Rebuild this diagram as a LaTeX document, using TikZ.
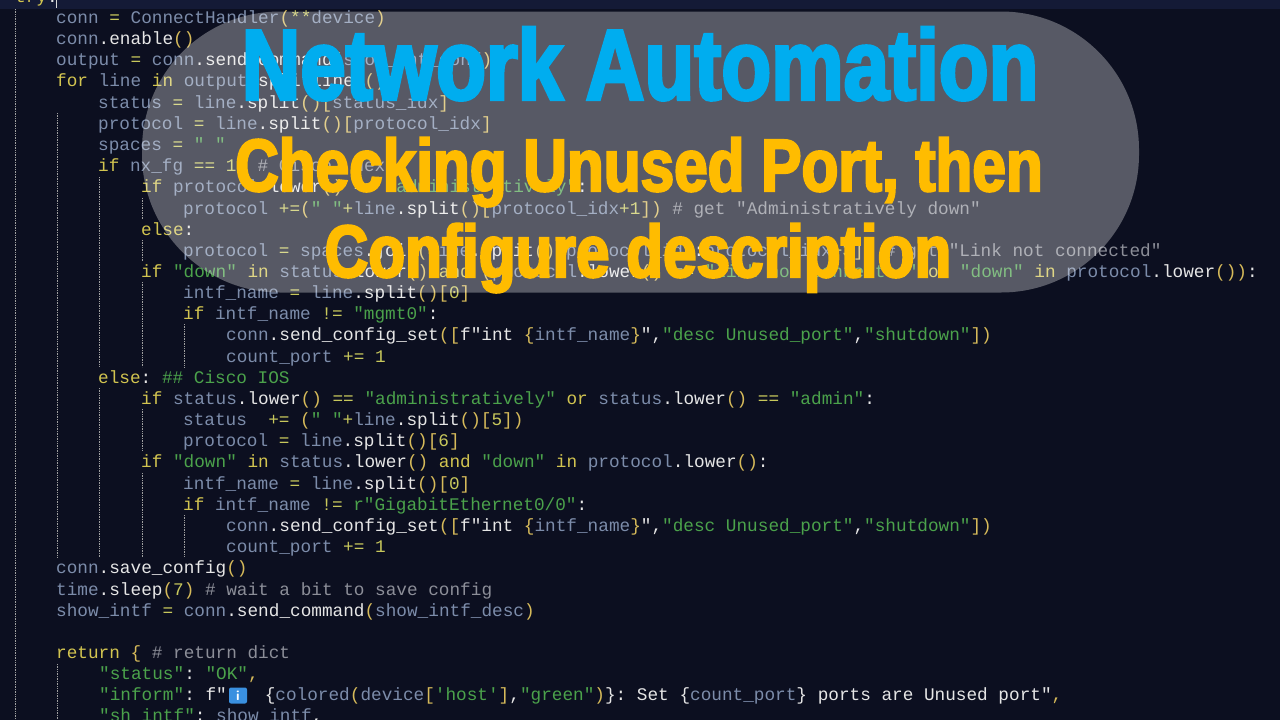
\documentclass[tikz,border=0pt]{standalone}
\usepackage{fontspec}
\setmonofont{Liberation Mono}
\newfontfamily\titlefont[FakeStretch=.815,FakeBold=3]{Liberation Sans Bold}

\definecolor{pagebg}{HTML}{0C0F20}
\definecolor{barbg}{HTML}{141A36}
\definecolor{codevar}{HTML}{7C8CAA}
\definecolor{codefn}{HTML}{E6E6E6}
\definecolor{codekey}{HTML}{D2C450}
\definecolor{codestr}{HTML}{4BA24B}
\definecolor{codebr}{HTML}{D6BA5A}
\definecolor{codeop}{HTML}{C8C85C}
\definecolor{codecm}{HTML}{8C8E98}
\definecolor{infoblue}{HTML}{3A90E0}
\definecolor{titleblue}{HTML}{00ADEF}
\definecolor{titleorange}{HTML}{FFBC00}

\newcommand{\cvar}[1]{\textcolor{codevar}{#1}}
\newcommand{\cfn}[1]{\textcolor{codefn}{#1}}
\newcommand{\ckey}[1]{\textcolor{codekey}{#1}}
\newcommand{\cstr}[1]{\textcolor{codestr}{#1}}
\newcommand{\cbr}[1]{\textcolor{codebr}{#1}}
\newcommand{\cop}[1]{\textcolor{codeop}{#1}}
\newcommand{\ccm}[1]{\textcolor{codecm}{#1}}

\tikzset{
	codeline/.style={anchor=mid west, inner sep=0pt, yshift=-3pt, font=\ttfamily\fontsize{17.72pt}{20pt}\selectfont\frenchspacing},
	guide/.style={draw=gray!75, line width=.7pt, densely dotted},
	titleline/.style={anchor=base, inner sep=0pt, font=\titlefont},
}

\begin{document}
\begin{tikzpicture}[x=1pt, y=-1pt]

	\useasboundingbox (0,0) rectangle (1280,720);
	\clip (0,0) rectangle (1280,720);

	\fill[pagebg] (0,0) rectangle (1280,720);
	\fill[barbg] (0,0) rectangle (1280,9);

	% indent guides
	\foreach \gx/\ga/\gb in {15/9/720, 57/113/557, 57/664/720, 99/177/367, 99/388/557, 142/198/219, 142/240/261, 142/282/367, 142/409/451, 142/473/557, 184/324/367, 184/515/557}
		\draw[guide] (\gx,\ga) -- (\gx,\gb);

	\draw[white!85!black, line width=.7pt] (56,0) -- (56,8);

	\node[codeline] (try) at (15,-3) {\ckey{try}\cfn{:}};
	\node[codeline] (l0) at (56,18) {\cvar{conn} \cop{=} \cvar{ConnectHandler}\cbr{(}\cop{**}\cvar{device}\cbr{)}};
	\node[codeline] (l1) at (56,39) {\cvar{conn}\cfn{.enable}\cbr{()}};
	\node[codeline] (l2) at (56,60) {\cvar{output} \cop{=} \cvar{conn}\cfn{.send\_command}\cbr{(}\cvar{show\_int\_conf}\cbr{)}};
	\node[codeline] (l3) at (56,81) {\ckey{for} \cvar{line} \ckey{in} \cvar{output}\cfn{.splitlines}\cbr{()}\cfn{:}};
	\node[codeline] (l4) at (98,103) {\cvar{status} \cop{=} \cvar{line}\cfn{.split}\cbr{()[}\cvar{status\_idx}\cbr{]}};
	\node[codeline] (l5) at (98,124) {\cvar{protocol} \cop{=} \cvar{line}\cfn{.split}\cbr{()[}\cvar{protocol\_idx}\cbr{]}};
	\node[codeline] (l6) at (98,145) {\cvar{spaces} \cop{=} \cstr{" "}};
	\node[codeline] (l7) at (98,166) {\ckey{if} \cvar{nx\_fg} \cop{==} \cop{1}\cfn{:} \ccm{\# Cisco \ Nexus}};
	\node[codeline] (l8) at (141,187) {\ckey{if} \cvar{protocol}\cfn{.lower}\cbr{()} \cop{==} \cstr{"administratively"}\cfn{:}};
	\node[codeline] (l9) at (183,209) {\cvar{protocol} \cop{+=}\cbr{(}\cstr{" "}\cop{+}\cvar{line}\cfn{.split}\cbr{()[}\cvar{protocol\_idx}\cop{+1}\cbr{])} \ccm{\# get "Administratively down"}};
	\node[codeline] (l10) at (141,230) {\ckey{else}\cfn{:}};
	\node[codeline] (l11) at (183,251) {\cvar{protocol} \cop{=} \cvar{spaces}\cfn{.join}\cbr{(}\cvar{line}\cfn{.split}\cbr{()[}\cvar{protocol\_idx}\cfn{:}\cvar{protocol\_idx}\cop{+3}\cbr{])} \ccm{\# get "Link not connected"}};
	\node[codeline] (l12) at (141,272) {\ckey{if} \cstr{"down"} \ckey{in} \cvar{status}\cfn{.lower}\cbr{()} \ckey{and} \cbr{(}\cvar{protocol}\cfn{.lower}\cbr{()} \cop{==} \cstr{"link not connected"} \ckey{or} \cstr{"down"} \ckey{in} \cvar{protocol}\cfn{.lower}\cbr{())}\cfn{:}};
	\node[codeline] (l13) at (183,293) {\cvar{intf\_name} \cop{=} \cvar{line}\cfn{.split}\cbr{()[}\cop{0}\cbr{]}};
	\node[codeline] (l14) at (183,314) {\ckey{if} \cvar{intf\_name} \cop{!=} \cstr{"mgmt0"}\cfn{:}};
	\node[codeline] (l15) at (226,335) {\cvar{conn}\cfn{.send\_config\_set}\cbr{([}\cfn{f"int} \cbr{\{}\cvar{intf\_name}\cbr{\}}\cfn{"}\cfn{,}\cstr{"desc Unused\_port"}\cfn{,}\cstr{"shutdown"}\cbr{])}};
	\node[codeline] (l16) at (226,357) {\cvar{count\_port} \cop{+=} \cop{1}};
	\node[codeline] (l17) at (98,378) {\ckey{else}\cfn{:} \cstr{\#\# Cisco IOS}};
	\node[codeline] (l18) at (141,399) {\ckey{if} \cvar{status}\cfn{.lower}\cbr{()} \cop{==} \cstr{"administratively"} \ckey{or} \cvar{status}\cfn{.lower}\cbr{()} \cop{==} \cstr{"admin"}\cfn{:}};
	\node[codeline] (l19) at (183,420) {\cvar{status}\ \ \cop{+=} \cbr{(}\cstr{" "}\cop{+}\cvar{line}\cfn{.split}\cbr{()[}\cop{5}\cbr{])}};
	\node[codeline] (l20) at (183,441) {\cvar{protocol} \cop{=} \cvar{line}\cfn{.split}\cbr{()[}\cop{6}\cbr{]}};
	\node[codeline] (l21) at (141,462) {\ckey{if} \cstr{"down"} \ckey{in} \cvar{status}\cfn{.lower}\cbr{()} \ckey{and} \cstr{"down"} \ckey{in} \cvar{protocol}\cfn{.lower}\cbr{()}\cfn{:}};
	\node[codeline] (l22) at (183,484) {\cvar{intf\_name} \cop{=} \cvar{line}\cfn{.split}\cbr{()[}\cop{0}\cbr{]}};
	\node[codeline] (l23) at (183,505) {\ckey{if} \cvar{intf\_name} \cop{!=} \cstr{r"GigabitEthernet0/0"}\cfn{:}};
	\node[codeline] (l24) at (226,526) {\cvar{conn}\cfn{.send\_config\_set}\cbr{([}\cfn{f"int} \cbr{\{}\cvar{intf\_name}\cbr{\}}\cfn{"}\cfn{,}\cstr{"desc Unused\_port"}\cfn{,}\cstr{"shutdown"}\cbr{])}};
	\node[codeline] (l25) at (226,547) {\cvar{count\_port} \cop{+=} \cop{1}};
	\node[codeline] (l26) at (56,568) {\cvar{conn}\cfn{.save\_config}\cbr{()}};
	\node[codeline] (l27) at (56,590) {\cvar{time}\cfn{.sleep}\cbr{(}\cop{7}\cbr{)} \ccm{\# wait a bit to save config}};
	\node[codeline] (l28) at (56,611) {\cvar{show\_intf} \cop{=} \cvar{conn}\cfn{.send\_command}\cbr{(}\cvar{show\_intf\_desc}\cbr{)}};
	\node[codeline] (l30) at (56,653) {\ckey{return} \cbr{\{} \ccm{\# return dict}};
	\node[codeline] (l31) at (99,674) {\cstr{"status"}\cfn{:} \cstr{"OK"}\cbr{,}};
	\node[codeline] (l32) at (99,695) {\cstr{"inform"}\cfn{:} \cfn{f"}\hspace{38pt}\cfn{\{}\cvar{colored}\cbr{(}\cvar{device}\cbr{[}\cstr{'host'}\cbr{]}\cfn{,}\cstr{"green"}\cbr{)}\cfn{\}: Set} \cfn{\{}\cvar{count\_port}\cfn{\} ports are Unused port"}\cbr{,}};
	\node[codeline] (l33) at (99,716) {\cstr{"sh\_intf"}\cfn{:} \cvar{show\_intf}\cfn{,}};

	% info icon
	\node[fill=infoblue, rounded corners=2pt, minimum width=18pt, minimum height=16pt, inner sep=0pt, text=white, font=\bfseries\sffamily\fontsize{14pt}{14pt}\selectfont] (info) at (238,695.5) {i};

	% pill
	\node[fill=white, fill opacity=.31, rounded corners=138pt, minimum width=997pt, minimum height=281pt, inner sep=0pt] (pill) at (640.5,152) {};

	\node[titleline, text=titleblue, font=\titlefont\fontsize{100pt}{100pt}\selectfont] (title) at (640,99.5) {Network Automation};
	\node[titleline, text=titleorange, font=\titlefont\fontsize{74pt}{74pt}\selectfont] (sub1) at (639,191) {Checking Unused Port, then};
	\node[titleline, text=titleorange, font=\titlefont\fontsize{74pt}{74pt}\selectfont] (sub2) at (638,277) {Configure description};

\end{tikzpicture}
\end{document}
